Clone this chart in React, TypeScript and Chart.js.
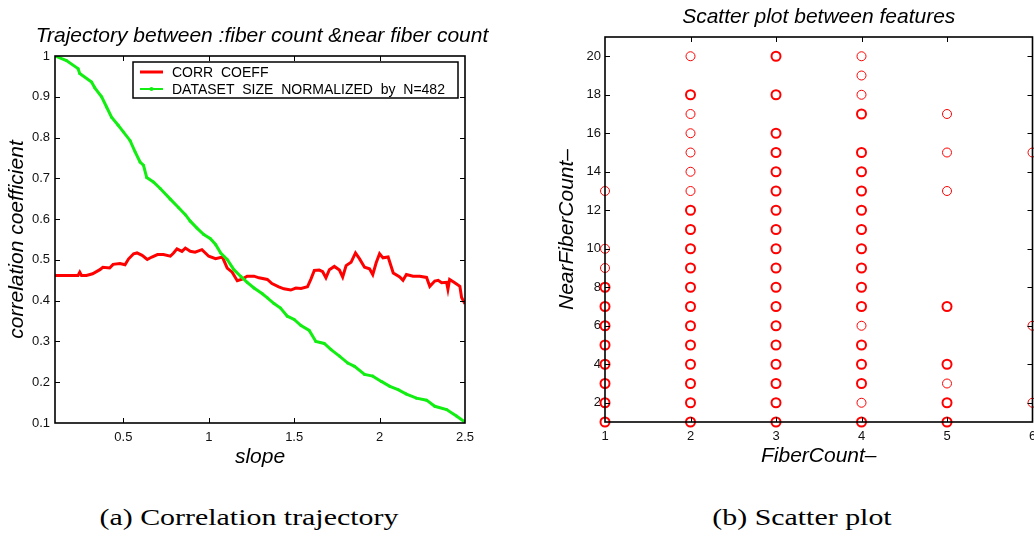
import React, { useEffect, useRef } from 'react';
import { Chart, registerables } from 'chart.js';
Chart.register(...registerables);

// ---- Left chart data: correlation trajectory ----
const corrCoeffPoints: [number, number][] = [
  [0.1, 0.462], [0.167, 0.462], [0.235, 0.462], [0.245, 0.47], [0.255, 0.462], [0.284, 0.462],
  [0.32, 0.466], [0.363, 0.476], [0.38, 0.482], [0.42, 0.48], [0.44, 0.489], [0.48, 0.491],
  [0.51, 0.488], [0.53, 0.502], [0.56, 0.515], [0.58, 0.517], [0.61, 0.511], [0.64, 0.501],
  [0.667, 0.507], [0.7, 0.513], [0.735, 0.513], [0.775, 0.509], [0.794, 0.517], [0.814, 0.527],
  [0.843, 0.521], [0.863, 0.529], [0.892, 0.521], [0.92, 0.519], [0.96, 0.525], [1.0, 0.509],
  [1.04, 0.503], [1.08, 0.507], [1.108, 0.48], [1.137, 0.47], [1.167, 0.449], [1.196, 0.453],
  [1.225, 0.46], [1.265, 0.46], [1.294, 0.456], [1.343, 0.452], [1.37, 0.442], [1.41, 0.434],
  [1.44, 0.429], [1.48, 0.426], [1.51, 0.431], [1.54, 0.43], [1.578, 0.434], [1.598, 0.453],
  [1.618, 0.474], [1.647, 0.475], [1.667, 0.471], [1.686, 0.456], [1.706, 0.476], [1.735, 0.484],
  [1.765, 0.475], [1.784, 0.458], [1.804, 0.486], [1.833, 0.494], [1.859, 0.517], [1.882, 0.503],
  [1.912, 0.482], [1.941, 0.478], [1.96, 0.464], [1.98, 0.493], [2.0, 0.515], [2.02, 0.505],
  [2.05, 0.507], [2.08, 0.468], [2.118, 0.458], [2.137, 0.45], [2.157, 0.464], [2.196, 0.46],
  [2.235, 0.46], [2.275, 0.457], [2.294, 0.435], [2.323, 0.448], [2.343, 0.45], [2.363, 0.444],
  [2.392, 0.445], [2.4, 0.428], [2.41, 0.452], [2.44, 0.444], [2.47, 0.435], [2.48, 0.408],
  [2.5, 0.392],
];

const datasetSizePoints: [number, number][] = [
  [0.1, 1.0], [0.167, 0.989], [0.235, 0.969], [0.245, 0.957], [0.314, 0.936], [0.333, 0.922],
  [0.373, 0.9], [0.402, 0.875], [0.431, 0.85], [0.47, 0.83], [0.5, 0.814], [0.539, 0.793],
  [0.569, 0.765], [0.598, 0.74], [0.618, 0.732], [0.637, 0.702], [0.676, 0.691], [0.716, 0.675],
  [0.775, 0.649], [0.824, 0.628], [0.863, 0.611], [0.892, 0.595], [0.931, 0.578], [0.971, 0.562],
  [1.01, 0.552], [1.04, 0.538], [1.07, 0.517], [1.108, 0.501], [1.147, 0.476], [1.186, 0.46],
  [1.225, 0.445], [1.265, 0.431], [1.314, 0.417], [1.343, 0.407], [1.382, 0.393], [1.42, 0.382],
  [1.46, 0.362], [1.5, 0.354], [1.54, 0.339], [1.588, 0.327], [1.627, 0.3], [1.676, 0.295],
  [1.716, 0.28], [1.765, 0.264], [1.814, 0.247], [1.853, 0.239], [1.912, 0.219], [1.96, 0.215],
  [2.01, 0.202], [2.06, 0.19], [2.108, 0.182], [2.157, 0.171], [2.216, 0.161], [2.275, 0.156],
  [2.323, 0.141], [2.392, 0.133], [2.45, 0.117], [2.5, 0.102],
];

const slopeTicks = [0.5, 1, 1.5, 2, 2.5];
const corrTicks = [0.1, 0.2, 0.3, 0.4, 0.5, 0.6, 0.7, 0.8, 0.9, 1];

// ---- Right chart data: scatter between features ----
const fiberCounts = [1, 2, 3, 4, 5, 6];
// near fiber counts seen once for each fiber count
const nearCountsSingle: number[][] = [
  [13, 10, 9],
  [20, 17, 16, 15, 14, 13],
  [],
  [20, 19, 18, 6, 2],
  [17, 15, 13, 3],
  [15, 6, 2],
];
// near fiber counts seen several times for each fiber count
const nearCountsRepeated: number[][] = [
  [8, 7, 6, 5, 4, 3, 2, 1],
  [18, 12, 11, 10, 9, 8, 7, 6, 5, 4, 3, 2, 1],
  [20, 18, 16, 15, 14, 13, 12, 11, 10, 9, 8, 7, 6, 5, 4, 3, 2, 1],
  [17, 15, 14, 13, 12, 11, 10, 9, 8, 7, 5, 4, 3, 1],
  [7, 4, 2, 1],
  [],
];
const fiberTicks = [1, 2, 3, 4, 5, 6];
const nearTicks = [2, 4, 6, 8, 10, 12, 14, 16, 18, 20];

const leftTitle = 'Trajectory between :fiber count &near fiber count';
const rightTitle = 'Scatter plot between features';

const SANS = '"Liberation Sans", Arial, Helvetica, sans-serif';

const framePlugin = {
  id: 'frame',
  afterDatasetsDraw(chart: any) {
    const { ctx, chartArea: a, scales } = chart;
    ctx.save();
    ctx.strokeStyle = '#000';
    ctx.lineWidth = 1;
    const tl = 5;
    ctx.beginPath();
    scales.x.ticks.forEach((t: any) => {
      const px = Math.round(scales.x.getPixelForValue(t.value)) + 0.5;
      if (px <= a.left + 2 || px >= a.right - 2) return;
      ctx.moveTo(px, a.bottom); ctx.lineTo(px, a.bottom - tl);
      ctx.moveTo(px, a.top); ctx.lineTo(px, a.top + tl);
    });
    scales.y.ticks.forEach((t: any) => {
      const py = Math.round(scales.y.getPixelForValue(t.value)) + 0.5;
      if (py <= a.top + 2 || py >= a.bottom - 2) return;
      ctx.moveTo(a.left, py); ctx.lineTo(a.left + tl, py);
      ctx.moveTo(a.right, py); ctx.lineTo(a.right - tl, py);
    });
    ctx.stroke();
    ctx.lineWidth = 1.6;
    ctx.strokeRect(a.left, a.top, a.right - a.left, a.bottom - a.top);
    ctx.restore();
  },
};

// Title drawn centred on a given x of the canvas (it is wider than the plot area)
const wideTitlePlugin = {
  id: 'wideTitle',
  afterDraw(chart: any, _args: any, opts: any) {
    if (!opts || !opts.text) return;
    const { ctx } = chart;
    ctx.save();
    ctx.font = `italic 21px ${SANS}`;
    ctx.fillStyle = '#000';
    ctx.textAlign = 'center';
    ctx.textBaseline = 'middle';
    ctx.fillText(opts.text, opts.x, opts.y);
    ctx.restore();
  },
};

const legendBoxPlugin = {
  id: 'legendBox',
  afterDraw(chart: any) {
    const { ctx, chartArea: a } = chart;
    const w = 325, h = 36;
    const x0 = a.right - 7 - w, y0 = a.top + 6;
    ctx.save();
    ctx.fillStyle = '#fff';
    ctx.fillRect(x0, y0, w, h);
    ctx.strokeStyle = '#000';
    ctx.lineWidth = 1.5;
    ctx.strokeRect(x0, y0, w, h);
    ctx.font = `14px ${SANS}`;
    ctx.textBaseline = 'middle';
    ctx.textAlign = 'left';
    chart.data.datasets.forEach((ds: any, i: number) => {
      const yy = y0 + 10 + i * 17;
      ctx.strokeStyle = ds.borderColor;
      ctx.lineWidth = i === 0 ? 3 : 2;
      ctx.beginPath();
      ctx.moveTo(x0 + 7, yy); ctx.lineTo(x0 + 30, yy);
      ctx.stroke();
      if (ds.pointRadius > 0) {
        ctx.fillStyle = ds.borderColor;
        ctx.beginPath();
        ctx.arc(x0 + 18.5, yy, 2, 0, Math.PI * 2);
        ctx.fill();
      }
      ctx.fillStyle = '#000';
      ctx.fillText(ds.label, x0 + 39, yy + 1);
    });
    ctx.restore();
  },
};

function fixedTicks(values: number[]) {
  return (scale: any) => {
    scale.ticks = values.map((v) => ({ value: v }));
  };
}

const titleFont = { family: SANS, size: 21, style: 'italic', weight: 'normal', lineHeight: 1.2 };
const axisTitleFont = { family: SANS, size: 21, style: 'italic', weight: 'normal', lineHeight: 1.2 };
const tickFont = { family: SANS, size: 13 };

function LeftChart() {
  const ref = useRef<HTMLCanvasElement>(null);
  useEffect(() => {
    const chart = new Chart(ref.current!, {
      type: 'line',
      data: {
        datasets: [
          {
            label: 'CORR  COEFF',
            data: corrCoeffPoints.map(([x, y]) => ({ x, y })),
            borderColor: '#ff0000',
            borderWidth: 3,
            pointRadius: 0,
            order: 1,
          },
          {
            label: 'DATASET  SIZE  NORMALIZED  by  N=482',
            data: datasetSizePoints.map(([x, y]) => ({ x, y })),
            borderColor: '#12ee12',
            backgroundColor: '#12ee12',
            borderWidth: 3,
            pointRadius: 1.5,
            pointBorderWidth: 0,
            order: 0,
          },
        ],
      },
      options: {
        responsive: false,
        animation: false,
        layout: { padding: { left: 0, right: 55, top: 56, bottom: 0 } },
        plugins: {
          legend: { display: false },
          tooltip: { enabled: false },
          title: { display: false },
          wideTitle: { text: leftTitle, x: 262, y: 36 },
        },
        scales: {
          x: {
            type: 'linear',
            min: 0.1,
            max: 2.5,
            afterBuildTicks: fixedTicks(slopeTicks),
            afterFit: (s: any) => { s.height = 57; s.paddingLeft = 0; s.paddingRight = 0; },
            grid: { display: false, drawTicks: false },
            border: { display: false },
            ticks: { color: '#111', padding: 7, font: tickFont, maxRotation: 0, callback: (v: any) => String(v) },
            title: { display: true, text: 'slope', color: '#000', font: axisTitleFont, padding: { top: 0, bottom: 10 } },
          },
          y: {
            type: 'linear',
            min: 0.1,
            max: 1,
            afterBuildTicks: fixedTicks(corrTicks),
            afterFit: (s: any) => { s.width = 55; s.paddingTop = 0; s.paddingBottom = 0; },
            grid: { display: false, drawTicks: false },
            border: { display: false },
            ticks: { color: '#111', padding: 5, font: tickFont, callback: (v: any) => String(v) },
            title: { display: true, text: 'correlation coefficient', color: '#000', font: axisTitleFont, padding: { top: 5, bottom: 0 } },
          },
        },
      } as any,
      plugins: [framePlugin, legendBoxPlugin, wideTitlePlugin],
    });
    return () => chart.destroy();
  }, []);
  return <canvas ref={ref} width={520} height={480} style={{ position: 'absolute', left: 0, top: 0, display: 'block' }} />;
}

function RightChart() {
  const ref = useRef<HTMLCanvasElement>(null);
  useEffect(() => {
    const single = fiberCounts.flatMap((fc, i) => nearCountsSingle[i].map((n) => ({ x: fc, y: n })));
    const repeated = fiberCounts.flatMap((fc, i) => nearCountsRepeated[i].map((n) => ({ x: fc, y: n })));
    const chart = new Chart(ref.current!, {
      type: 'scatter',
      data: {
        datasets: [
          {
            label: 'once',
            data: single,
            borderColor: '#ff0000',
            backgroundColor: 'rgba(0,0,0,0)',
            pointRadius: 4.5,
            pointBorderWidth: 1,
            clip: false,
          },
          {
            label: 'repeated',
            data: repeated,
            borderColor: '#ff0000',
            backgroundColor: 'rgba(0,0,0,0)',
            pointRadius: 4.5,
            pointBorderWidth: 2,
            clip: false,
          },
        ],
      },
      options: {
        responsive: false,
        animation: false,
        layout: { padding: { left: 0, right: 2, top: 0, bottom: 0 } },
        plugins: {
          legend: { display: false },
          tooltip: { enabled: false },
          title: {
            display: true,
            fullSize: false,
            text: rightTitle,
            color: '#000',
            font: titleFont,
            padding: { top: 4.4, bottom: 7.4 },
          },
        },
        scales: {
          x: {
            type: 'linear',
            min: 1,
            max: 6,
            afterBuildTicks: fixedTicks(fiberTicks),
            afterFit: (s: any) => { s.height = 58; s.paddingLeft = 0; s.paddingRight = 0; },
            grid: { display: false, drawTicks: false },
            border: { display: false },
            ticks: { color: '#111', padding: 7, font: tickFont, maxRotation: 0, callback: (v: any) => String(v) },
            title: { display: true, text: 'FiberCount–', color: '#000', font: axisTitleFont, padding: { top: 0, bottom: 11 } },
          },
          y: {
            type: 'linear',
            min: 1,
            max: 21,
            afterBuildTicks: fixedTicks(nearTicks),
            afterFit: (s: any) => { s.width = 85; s.paddingTop = 0; s.paddingBottom = 0; },
            grid: { display: false, drawTicks: false },
            border: { display: false },
            ticks: { color: '#111', padding: 4, font: tickFont, callback: (v: any) => String(v) },
            title: { display: true, text: 'NearFiberCount–', color: '#000', font: axisTitleFont, padding: { top: 35, bottom: 0 } },
          },
        },
      } as any,
      plugins: [framePlugin],
    });
    return () => chart.destroy();
  }, []);
  return <canvas ref={ref} width={519} height={480} style={{ position: 'absolute', left: 520, top: 0, display: 'block' }} />;
}

const captionStyle: React.CSSProperties = {
  position: 'absolute',
  top: 503,
  textAlign: 'center',
  fontFamily: '"Liberation Serif", "Times New Roman", serif',
  fontSize: 23,
  lineHeight: '30px',
  color: '#000',
  whiteSpace: 'nowrap',
};

export default function App() {
  return (
    <div style={{ position: 'fixed', left: 0, top: 0, width: 1034, height: 536, background: '#fff', overflow: 'hidden' }}>
      <LeftChart />
      <RightChart />
      <div style={{ ...captionStyle, left: 0, width: 498 }}>
        <span style={{ display: 'inline-block', transform: 'scaleX(1.3)' }}>(a) Correlation trajectory</span>
      </div>
      <div style={{ ...captionStyle, left: 602, width: 400 }}>
        <span style={{ display: 'inline-block', transform: 'scaleX(1.3)' }}>(b) Scatter plot</span>
      </div>
    </div>
  );
}
